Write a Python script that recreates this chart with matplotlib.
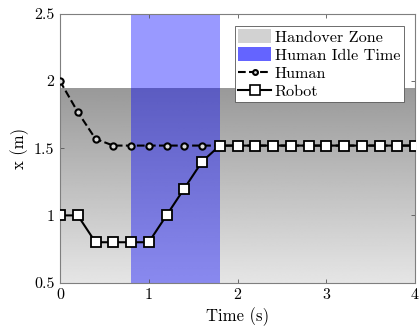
import numpy as np
import matplotlib
matplotlib.use("Agg")
import matplotlib.pyplot as plt
from matplotlib.patches import Patch
from matplotlib.lines import Line2D
from matplotlib.ticker import FuncFormatter

plt.rcParams['font.family'] = 'serif'
plt.rcParams['font.serif'] = ['cmr10']
plt.rcParams['mathtext.fontset'] = 'cm'
plt.rcParams['axes.formatter.use_mathtext'] = True

# data
t = [0, 0.2, 0.4, 0.6, 0.8, 1.0, 1.2, 1.4, 1.6, 1.8, 2.0, 2.2, 2.4, 2.6, 2.8,
     3.0, 3.2, 3.4, 3.6, 3.8, 4.0]
human = [2.0, 1.77, 1.57, 1.52, 1.52, 1.52, 1.52, 1.52, 1.52, 1.52, 1.52,
         1.52, 1.52, 1.52, 1.52, 1.52, 1.52, 1.52, 1.52, 1.52, 1.52]
robot = [1.0, 1.0, 0.8, 0.8, 0.8, 0.8, 1.0, 1.2, 1.4, 1.52, 1.52,
         1.52, 1.52, 1.52, 1.52, 1.52, 1.52, 1.52, 1.52, 1.52, 1.52]
handover_zone = (0.5, 1.95)   # x range of the zone (m)
idle_time = (0.8, 1.8)        # human idle interval (s)

fig = plt.figure(figsize=(4.19, 3.29), dpi=100)
ax = fig.add_axes([0.1432, 0.1413, 0.8473, 0.8161])

# gray gradient for the handover zone
grad = np.linspace(0.9, 0.6, 256).reshape(-1, 1)
ax.imshow(grad, cmap='gray', vmin=0, vmax=1, aspect='auto', origin='lower',
          extent=[0, 4, handover_zone[0], handover_zone[1]], zorder=0)
ax.axvspan(idle_time[0], idle_time[1], color=(0, 0, 1), alpha=0.4, lw=0, zorder=1)

ax.plot(t, human, '--o', color='k', lw=1.5, ms=4.5, mew=1.5, mfc=(0.85, 0.85, 0.85), zorder=3)
ax.plot(t, robot, '-s', color='k', lw=1.5, ms=7.5, mew=1.3, mfc='white', zorder=4)

ax.set_xlim(0, 4)
ax.set_ylim(0.5, 2.5)
ax.set_xticks([0, 1, 2, 3, 4])
ax.set_yticks([0.5, 1, 1.5, 2, 2.5])
fmt = FuncFormatter(lambda v, p: '%g' % v)
ax.xaxis.set_major_formatter(fmt)
ax.yaxis.set_major_formatter(fmt)
ax.tick_params(direction='in', length=3, width=0.6, color='#555555',
               labelsize=11.5, top=True, right=True, pad=4)
for s in ax.spines.values():
    s.set_color('#7f7f7f')
    s.set_linewidth(0.8)
ax.set_xlabel('Time (s)', fontsize=12, labelpad=4)
ax.set_ylabel('x (m)', fontsize=12, labelpad=4)

handles = [
    Patch(facecolor='#d2d2d2', edgecolor='none', label='Handover Zone'),
    Patch(facecolor='#6464ff', edgecolor='none', label='Human Idle Time'),
    Line2D([], [], ls='--', marker='o', color='k', lw=1.5, ms=3.5, mew=1.5,
           mfc=(0.85, 0.85, 0.85), label='Human'),
    Line2D([], [], ls='-', marker='s', color='k', lw=1.5, ms=6.5, mew=1.2,
           mfc='white', label='Robot'),
]
leg = ax.legend(handles=handles, loc='upper right', bbox_to_anchor=(0.968, 0.955),
                fontsize=11.7, fancybox=False, framealpha=1, edgecolor='#555555',
                handlelength=2.0, handleheight=0.95, handletextpad=0.25,
                borderpad=0.2, labelspacing=0.15, borderaxespad=0)
leg.get_frame().set_linewidth(0.6)

fig.savefig('out.png', dpi=100)
